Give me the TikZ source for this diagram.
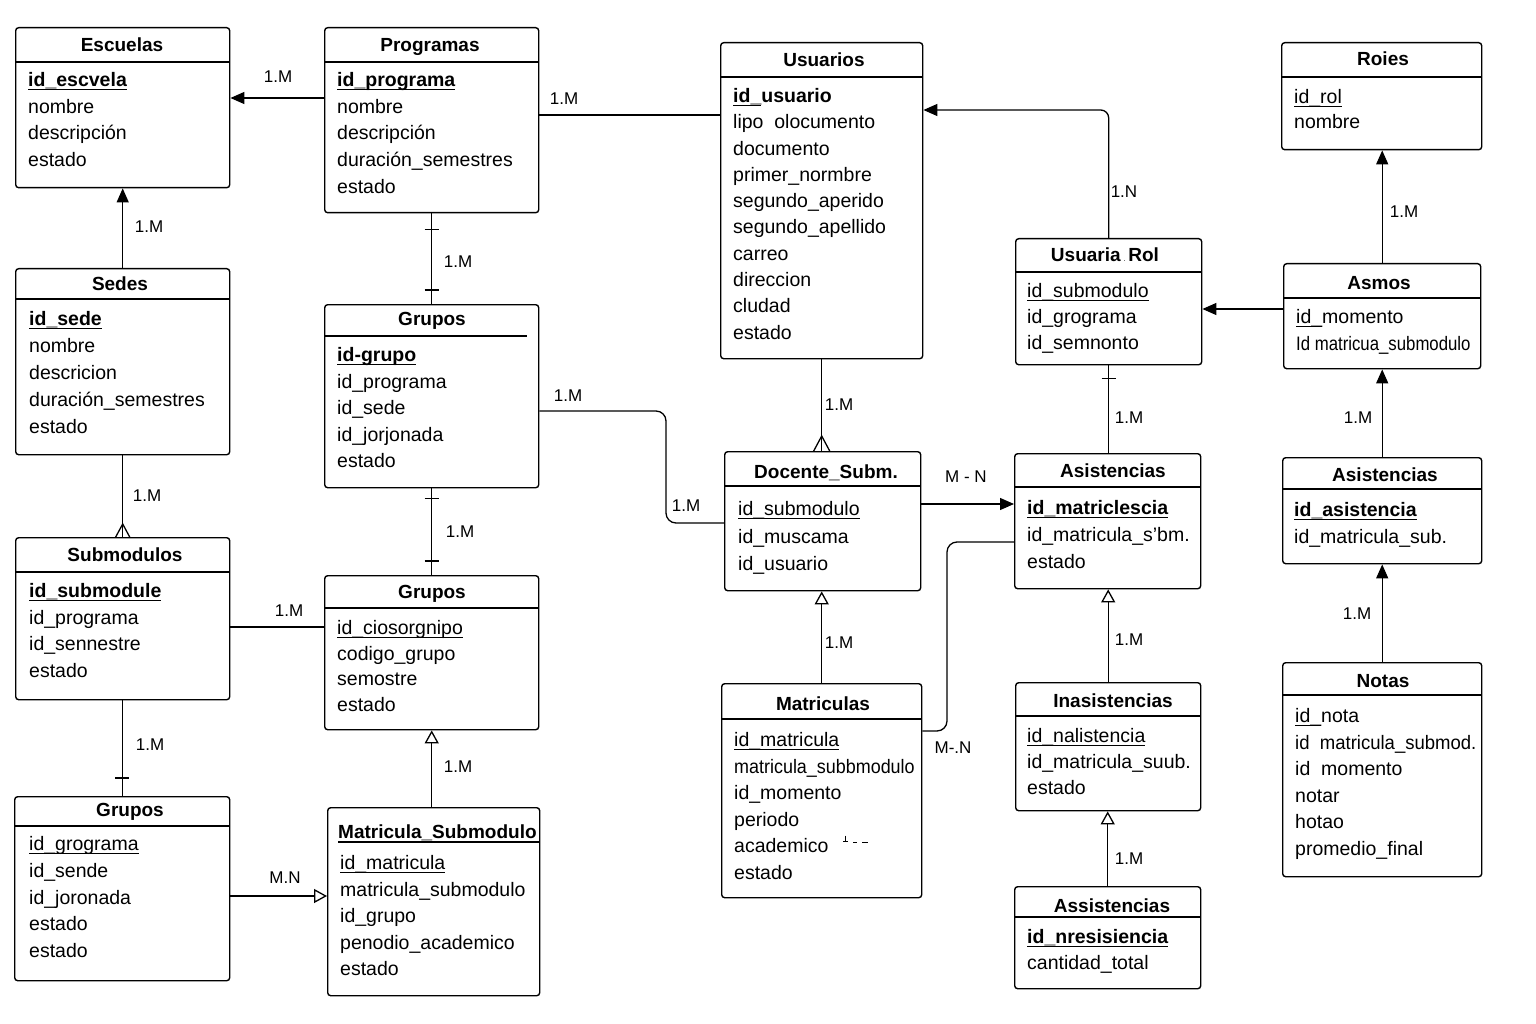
\documentclass[tikz,border=0pt]{standalone}
\usepackage{fontspec}
\setmainfont{Liberation Sans}
\usepackage{graphicx}
\usetikzlibrary{arrows.meta}

\newsavebox\ulnbox
\newcommand\uln[1]{\sbox\ulnbox{#1}\rlap{\rule[-3.5pt]{\wd\ulnbox}{1.4pt}}\usebox\ulnbox}
\newcommand\attfont{\fontsize{19.5pt}{24pt}\selectfont}
\newcommand\ttlfont{\fontsize{19pt}{23pt}\selectfont\bfseries}
\newcommand\lblfont{\fontsize{17pt}{21pt}\selectfont}

% \erbox{name}{x1}{y1}{x2}{y2}{header y}{title x}{title y}{title}
\newcommand\erbox[9]{%
  \node[tbl, minimum width={(#4-#2)*1pt}, minimum height={(#5-#3)*1pt}] (#1) at (#2,#3) {};
  \draw[rule] (#2,#6) -- (#4,#6);
  \node[ttl] (#1-t) at (#7,#8+6.5) {#9};
}
% \erattrs{name}{x}{first row y}{row spacing}{rows}
\newcommand\erattrs[5]{%
  \foreach \txt [count=\k] in {#5} {
    \node[att] (#1-\k) at (#2,{#3+(\k-1)*#4+6.5}) {\txt};
  }
}

\begin{document}
\begin{tikzpicture}[x=1pt,y=-1pt,
  tbl/.style={draw, line width=1.4pt, rounded corners=3pt, inner sep=0pt, anchor=north west},
  rule/.style={line width=1.4pt},
  ttl/.style={font=\ttlfont, anchor=base, inner sep=0pt},
  att/.style={font=\attfont, anchor=base west, inner sep=0pt},
  lbl/.style={font=\lblfont, inner sep=0pt},
  conn/.style={line width=1.3pt},
  farrow/.style={conn, -{Triangle[length=14pt,width=12pt]}},
  oarrow/.style={conn, -{Triangle[open,length=13pt,width=14pt]}},
  tickmark/.style={line width=1.3pt},
]
\fill[white] (0,0) rectangle (1536,1024);
\useasboundingbox (0,0) rectangle (1536,1024);

% ---------- entities ----------
\erbox{esc}{15}{27}{229}{187}{62}{122}{45}{Escuelas}
\erattrs{esc}{28}{80}{26.7}{{\textbf{\uln{id\_escvela}}},nombre,descripción,estado}

\erbox{prog}{324}{27}{538}{212}{62}{430}{45}{Programas}
\erattrs{prog}{337}{80}{26.7}{{\textbf{\uln{id\_programa}}},nombre,descripción,{duración\_semestres},estado}

\erbox{usu}{720}{42}{922}{358}{77}{824}{60}{Usuarios}
\erattrs{usu}{733}{96}{26.3}{{\textbf{\uln{id\_}usuario}},{lipo\ \ olocumento},documento,{primer\_normbre},{segundo\_aperido},{segundo\_apellido},carreo,direccion,cludad,estado}

\erbox{roi}{1281}{42}{1481}{149}{77}{1383}{59}{Roies}
\erattrs{roi}{1294}{97}{25}{{\uln{id\_rol}},nombre}

\erbox{sed}{15}{268}{229}{454}{299}{120}{284}{Sedes}
\erattrs{sed}{29}{319}{27}{{\textbf{\uln{id\_sede}}},nombre,descricion,{duración\_semestres},estado}

\node[tbl, minimum width=214pt, minimum height=183pt] (gr1) at (324,304) {};
\draw[rule] (324,336) -- (527,336);
\node[ttl] (gr1-t) at (432,325.5) {Grupos};
\erattrs{gr1}{337}{355}{26.5}{{\textbf{\uln{id-grupo}}},{id\_programa},{id\_sede},{id\_jorjonada},estado}

\erbox{ur}{1015}{238}{1201}{364}{272}{1105}{255}{Usuaria\,{\tiny.}\,Rol}
\erattrs{ur}{1027}{291}{26}{{\uln{id\_submodulo}},{id\_grograma},{id\_semnonto}}

\erbox{asm}{1283}{263}{1480}{368}{298}{1379}{283}{Asmos}
\erattrs{asm}{1296}{317}{27}{{\uln{id\_}momento},{\scalebox{0.86}[1]{Id matricua\_submodulo}}}

\erbox{doc}{724}{451}{920}{590}{486}{826}{472}{Docente\_Subm.}
\erattrs{doc}{738}{509}{27.5}{{\uln{id\_submodulo}},{id\_muscama},{id\_usuario}}

\erbox{asi}{1014}{453}{1200}{588}{487}{1113}{471}{Asistencias}
\erattrs{asi}{1027}{508}{27}{{\textbf{\uln{id\_matriclescia}}},{id\_matricula\_s’bm.},estado}

\erbox{asr}{1282}{457}{1481}{563}{489}{1385}{475}{Asistencias}
\erattrs{asr}{1294}{510}{27}{{\textbf{\uln{id\_asistencia}}},{id\_matricula\_sub.}}

\erbox{sub}{15}{537}{229}{699}{572}{125}{555}{Submodulos}
\erattrs{sub}{29}{591}{26.7}{{\textbf{\uln{id\_submodule}}},{id\_programa},{id\_sennestre},estado}

\erbox{gr2}{324}{575}{538}{729}{608}{432}{592}{Grupos}
\erattrs{gr2}{337}{628}{25.7}{{\uln{id\_ciosorgnipo}},{codigo\_grupo},semostre,estado}

\erbox{mat}{721}{683}{921}{897}{719}{823}{704}{Matriculas}
\erattrs{mat}{734}{740}{26.6}{{\uln{id\_matricula}},{\scalebox{0.92}[1]{matricula\_subbmodulo}},{id\_momento},periodo,academico,estado}
% stray marks after "academico"
\draw[line width=0.9pt] (845.5,835.5) -- (845.5,841) (843,841) -- (848,841)
  (853,842) -- (857,842) (862,842) -- (868,842);

\erbox{ina}{1015}{682}{1200}{810}{716}{1113}{701}{Inasistencias}
\erattrs{ina}{1027}{736}{26}{{\uln{id\_nalistencia}},{id\_matricula\_suub.},estado}

\erbox{ass}{1014}{886}{1200}{988}{917}{1112}{906}{Assistencias}
\erattrs{ass}{1027}{937}{26}{{\textbf{\uln{id\_nresisiencia}}},{cantidad\_total}}

\erbox{not}{1282}{662}{1481}{876}{695}{1383}{681}{Notas}
\erattrs{not}{1295}{716}{26.6}{{\uln{id\_}nota},{\scalebox{0.95}[1]{id\ \ matricula\_submod.}},{id\ \ momento},notar,hotao,{promedio\_final}}

\erbox{gr3}{14}{796}{229}{980}{826}{130}{810}{Grupos}
\erattrs{gr3}{29}{844}{26.75}{{\uln{id\_grograma}},{id\_sende},{id\_joronada},estado,estado}

\node[tbl, minimum width=212pt, minimum height=188pt] (ms) at (327,807) {};
\node[ttl, anchor=base west] (ms-t) at (338,838) {Matricula\_Submodulo};
\draw[rule] (338,842) -- (539,842);
\erattrs{ms}{340}{863}{26.5}{{\uln{id\_matricula}},{matricula\_submodulo},{id\_grupo},{penodio\_academico},estado}

% ---------- relationships ----------
% Programas -> Escuelas
\draw[farrow] (prog.west |- 0,98) -- (esc.east |- 0,98);
\node[lbl] (l-pe) at (278,77) {1.M};
% Sedes -> Escuelas
\draw[farrow] (sed.north) -- (esc.south);
\node[lbl] (l-se) at (149,227) {1.M};
% Programas -- Grupos
\draw[conn] (prog.south) -- (gr1.north);
\draw[tickmark] ([xshift=-7pt,yshift=-16pt]prog.south) -- ++(14,0);
\draw[tickmark] ([xshift=-7pt,yshift=14pt]gr1.north) -- ++(14,0);
\node[lbl] (l-pg) at (458,262) {1.M};
% Programas -- Usuarios
\draw[conn] (prog.east |- 0,115) -- (usu.west |- 0,115);
\node[lbl] (l-pu) at (564,99) {1.M};
% Usuaria Rol -> Usuarios
\draw[farrow, rounded corners=8pt] (ur.north) |- (usu.east |- 0,110);
\node[lbl] (l-uu) at (1124,192) {1.N};
% Asmos -> Roies
\draw[farrow] (asm.north) -- (asm.north |- roi.south);
\node[lbl] (l-ar) at (1404,212) {1.M};
% Asmos -> Usuaria Rol
\draw[farrow] (asm.west |- 0,309) -- (ur.east |- 0,309);
% Usuarios -- Docente_Subm.
\coordinate (cf1) at (usu.south |- doc.north);
\draw[conn] (usu.south) -- (cf1);
\draw[conn] ([xshift=-8pt]cf1) -- ([yshift=15pt]cf1) -- ([xshift=8pt]cf1);
\node[lbl] (l-ud) at (839,405) {1.M};
% Usuaria Rol -- Asistencias
\draw[conn] (ur.south) -- (ur.south |- asi.north);
\draw[tickmark] ([xshift=-7pt,yshift=-13pt]ur.south) -- ++(14,0);
\node[lbl] (l-ua) at (1129,418) {1.M};
% Asistencias -> Asmos
\draw[farrow] (asr.north) -- (asr.north |- asm.south);
\node[lbl] (l-aa) at (1358,418) {1.M};
% Notas -> Asistencias
\draw[farrow] (not.north) -- (not.north |- asr.south);
\node[lbl] (l-na) at (1357,614) {1.M};
% Grupos -- Docente_Subm.
\draw[conn, rounded corners=10pt] (gr1.east |- 0,411) -| (666,523) -- (doc.west |- 0,523);
\node[lbl] (l-gd1) at (568,396) {1.M};
\node[lbl] (l-gd2) at (686,506) {1.M};
% Docente_Subm. -> Asistencias
\draw[farrow] (doc.east |- 0,504) -- (asi.west |- 0,504);
\node[lbl] (l-da) at (966,477) {M - N};
% Matriculas -- Asistencias
\draw[conn, rounded corners=10pt] (mat.east |- 0,731) -| (947,542) -- (asi.west |- 0,542);
\node[lbl] (l-ma) at (953,748) {M-.N};
% Matriculas -> Docente_Subm.
\draw[oarrow] (mat.north) -- (mat.north |- doc.south);
\node[lbl] (l-md) at (839,643) {1.M};
% Inasistencias -> Asistencias
\draw[oarrow] (ina.north) -- (ina.north |- asi.south);
\node[lbl] (l-ia) at (1129,640) {1.M};
% Assistencias -> Inasistencias
\draw[oarrow] (ass.north) -- (ass.north |- ina.south);
\node[lbl] (l-ai) at (1129,859) {1.M};
% Sedes -- Submodulos
\draw[conn] (sed.south) -- (sub.north);
\draw[conn] ([xshift=-7pt]sub.north) -- ([yshift=13pt]sub.north) -- ([xshift=7pt]sub.north);
\node[lbl] (l-ss) at (147,496) {1.M};
% Grupos -- Grupos
\draw[conn] (gr1.south) -- (gr2.north);
\draw[tickmark] ([xshift=-7pt,yshift=-10pt]gr1.south) -- ++(14,0);
\draw[tickmark] ([xshift=-7pt,yshift=14pt]gr2.north) -- ++(14,0);
\node[lbl] (l-gg) at (460,532) {1.M};
% Submodulos -- Grupos
\draw[conn] (sub.east |- 0,627) -- (gr2.west |- 0,627);
\node[lbl] (l-sg) at (289,611) {1.M};
% Submodulos -- Grupos (lower)
\draw[conn] (sub.south) -- (sub.south |- gr3.north);
\draw[tickmark] ([xshift=-7pt,yshift=18pt]gr3.north) -- ++(14,0);
\node[lbl] (l-sg3) at (150,745) {1.M};
% Matricula_Submodulo -> Grupos
\draw[oarrow] (gr2.south |- ms.north) -- (gr2.south);
\node[lbl] (l-mg) at (458,767) {1.M};
% Grupos (lower) -> Matricula_Submodulo
\draw[oarrow] (gr3.east |- 0,896) -- (ms.west |- 0,896);
\node[lbl] (l-gm) at (285,878) {M.N};
\end{tikzpicture}
\end{document}
